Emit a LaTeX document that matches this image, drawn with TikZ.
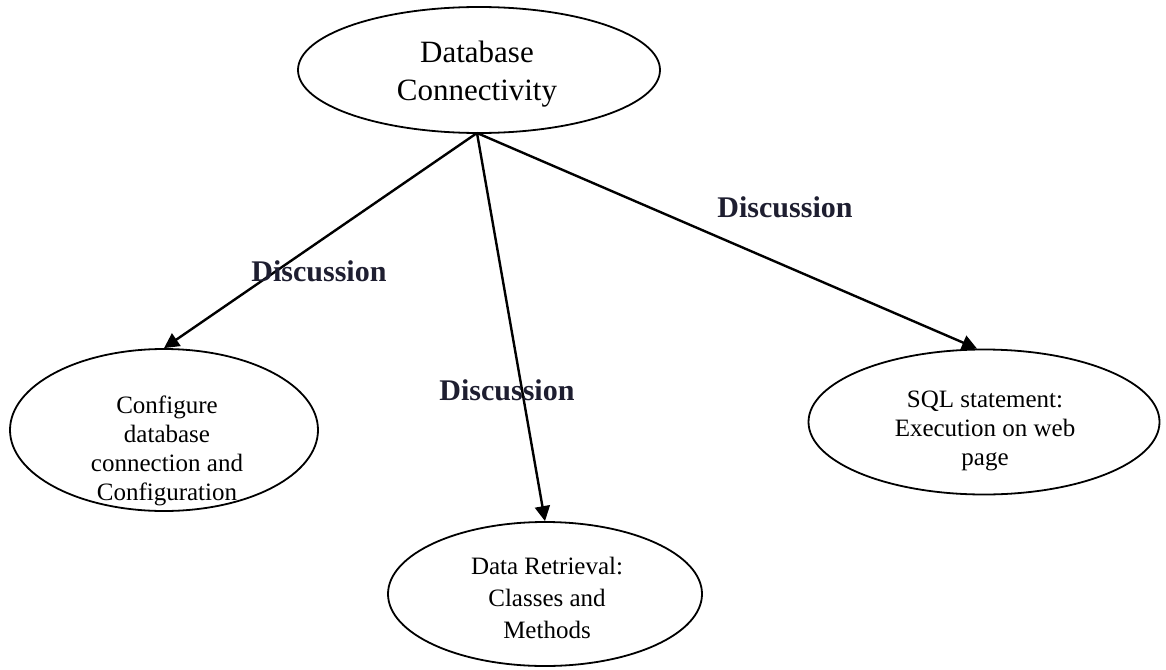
\documentclass[tikz,border=0pt]{standalone}
\usepackage{fontspec}
\setmainfont{Liberation Serif}
\usetikzlibrary{shapes.geometric,arrows.meta}
\definecolor{labelcol}{RGB}{30,30,48}
\tikzset{
  topic/.style={ellipse, draw=black, line width=1.8pt, inner sep=0pt},
  txt/.style={anchor=base, align=center, inner sep=0pt},
  conn/.style={line width=2.4pt, -{Triangle[length=15pt,width=15pt]}},
  disc/.style={anchor=base, inner sep=0pt, text=labelcol, font=\bfseries\fontsize{30}{36}\selectfont},
}
\begin{document}
\begin{tikzpicture}[x=1pt,y=-1pt]
\useasboundingbox (0,0) rectangle (1166,669);
% ellipses
\node[topic, minimum width=362pt, minimum height=126pt] (top) at (479,70) {};
\node[topic, minimum width=308pt, minimum height=162pt] (left) at (164,430) {};
\node[topic, minimum width=314pt, minimum height=144pt] (mid) at (545,594) {};
\node[topic, minimum width=351pt, minimum height=145pt] (right) at (984,422) {};
% texts (anchor base = baseline of last line)
\node[txt, font=\fontsize{31}{38}\selectfont] (toptxt) at (477,100) {Database\\Connectivity};
\node[txt, font=\fontsize{25}{29}\selectfont] (lefttxt) at (167,500) {Configure\\database\\connection and\\Configuration};
\node[txt, font=\fontsize{25}{32}\selectfont] (midtxt) at (547,638) {Data Retrieval:\\Classes and\\Methods};
\node[txt, font=\fontsize{25}{29}\selectfont] (righttxt) at (985,465) {SQL statement:\\Execution on web\\page};
% connectors
\coordinate (src) at (477,133);
\draw[conn] (src) -- (left.north);
\draw[conn] (src) -- (mid.north);
\draw[conn] (src) -- ([xshift=-7pt]right.north);
% labels
\node[disc] (d1) at (319,281) {Discussion};
\node[disc] (d2) at (507,400) {Discussion};
\node[disc] (d3) at (785,217) {Discussion};
\end{tikzpicture}
\end{document}
